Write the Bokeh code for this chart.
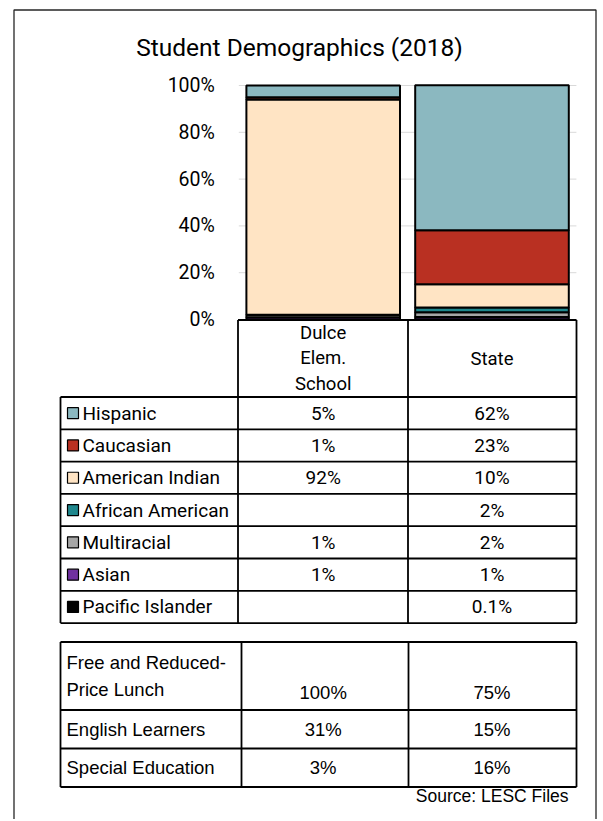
from bokeh.plotting import figure
from bokeh.models import Range1d, LinearAxis, FixedTicker, PrintfTickFormatter, ColumnDataSource
from bokeh.core.properties import value
from bokeh.embed import file_html
from bokeh.resources import INLINE

# ---------------- data ----------------
title = "Student Demographics (2018)"
categories = ["Dulce\nElem.\nSchool", "State"]
groups = ["Hispanic", "Caucasian", "American Indian", "African American",
          "Multiracial", "Asian", "Pacific Islander"]
dulce = [5, 1, 92, None, 1, 1, None]
state = [62, 23, 10, 2, 2, 1, 0.1]
colors = ["#8BB8C0", "#B93022", "#FFE4C4", "#1F878D", "#A6A6A6", "#7030A0", "#000000"]
y_ticks = [0, 20, 40, 60, 80, 100]
programs = ["Free and Reduced-\nPrice Lunch", "English Learners", "Special Education"]
dulce_prog = [100, 31, 3]
state_prog = [75, 15, 16]
source_note = "Source: LESC Files"

# ---------------- layout (page pixels) ----------------
W, H = 600, 819
OFF = 0
X0, DX = 322.7, 168.8      # centre of first category, px per category
Y0, DY = 319.0, 2.34       # 0% line, px per percent

FR = "Roboto"
AR = "Liberation Sans"

p = figure(width=W, height=H, output_backend="svg", toolbar_location=None,
           x_axis_location=None, y_axis_location=None, min_border=0,
           outline_line_color=None,
           x_range=Range1d(1 + (OFF - X0) / DX, 1 + (OFF + W - X0) / DX),
           y_range=Range1d((Y0 - (OFF + H)) / DY, (Y0 - OFF) / DY))
p.extra_x_ranges = {"px": Range1d(OFF, OFF + W)}
p.extra_y_ranges = {"px": Range1d(OFF + H, OFF)}
p.xgrid.visible = False
p.ygrid.visible = False
p.background_fill_color = "white"
p.border_fill_color = "white"

def fmt(v):
    if v is None:
        return ""
    return (f"{v:g}") + "%"

xs_cat = [i + 1 for i in range(len(categories))]

# gridlines
p.segment(x0=0.5, x1=len(categories) + 0.5, y0=y_ticks, y1=y_ticks,
          line_color="#D9D9D9", line_width=1)

# y axis
ax = LinearAxis(fixed_location=0.5, bounds=(0, 100),
                ticker=FixedTicker(ticks=y_ticks),
                formatter=PrintfTickFormatter(format="%d%%"))
ax.axis_line_color = None
ax.major_tick_line_color = None
ax.minor_tick_line_color = None
ax.major_label_standoff = 18
ax.major_label_text_font = FR
ax.major_label_text_font_size = "19.5px"
ax.major_label_text_color = "black"
p.add_layout(ax, "left")

# stacked bars
data = {"x": xs_cat}
for g, d, s in zip(groups, dulce, state):
    data[g] = [d or 0, s or 0]
src = ColumnDataSource(data)
stack = list(reversed(groups))
p.vbar_stack(stack, x="x", width=0.91, source=src,
             fill_color=list(reversed(colors)), line_color="black", line_width=2.0)

# ---------------- upper table ----------------
LX, C1, C2, RX = 60, 237.5, 407.5, 576
HT = 319.5
RT = 396.5
RH = 32.3
rows_y = [RT + i * RH for i in range(len(groups) + 1)]
lx, ly = [], []
lx += [[C1, RX]]; ly += [[HT, HT]]
lx += [[C1, C1], [C2, C2], [RX, RX]]; ly += [[HT, rows_y[-1]], [HT, rows_y[-1]], [HT, rows_y[-1]]]
lx += [[LX, LX]]; ly += [[RT, rows_y[-1]]]
for y in rows_y:
    lx.append([LX, RX]); ly.append([y, y])
p.multi_line(xs=lx, ys=ly, line_color="black", line_width=1.8,
             x_range_name="px", y_range_name="px")

p.text(x=xs_cat, y=[(HT + RT) / 2] * len(categories), text=categories,
       text_font=value(FR), text_font_size="18.5px", text_align="center",
       text_baseline="middle", text_line_height=1.18, y_range_name="px")

centers = [(rows_y[i] + rows_y[i + 1]) / 2 for i in range(len(groups))]
p.scatter(x=[72.5] * len(groups), y=centers, marker="square", size=11,
          fill_color=colors, line_color="black", line_width=1.2,
          x_range_name="px", y_range_name="px")
p.text(x=[82] * len(groups), y=centers, text=groups, text_font=value(FR),
       text_font_size="19px", text_align="left", text_baseline="middle",
       x_range_name="px", y_range_name="px")
p.text(x=[1] * len(groups), y=centers, text=[fmt(v) for v in dulce],
       text_font=value(FR), text_font_size="19px", text_align="center",
       text_baseline="middle", y_range_name="px")
p.text(x=[2] * len(groups), y=centers, text=[fmt(v) for v in state],
       text_font=value(FR), text_font_size="19px", text_align="center",
       text_baseline="middle", y_range_name="px")

# ---------------- lower table ----------------
BC1, BC2 = 241, 408
brows = [641.5, 709.5, 748, 786.5]
bx, by = [], []
for y in brows:
    bx.append([LX, RX]); by.append([y, y])
for x in [LX, BC1, BC2, RX]:
    bx.append([x, x]); by.append([brows[0], brows[-1]])
p.multi_line(xs=bx, ys=by, line_color="black", line_width=1.8,
             x_range_name="px", y_range_name="px")

plab_y = [brows[0] + 10, (brows[1] + brows[2]) / 2, (brows[2] + brows[3]) / 2]
p.text(x=[66] * 3, y=plab_y, text=programs, text_font=value(AR),
       text_font_size="18.5px", text_align="left",
       text_baseline=["top", "middle", "middle"], text_line_height=1.3,
       x_range_name="px", y_range_name="px")
pval_y = [brows[1] - 18, plab_y[1], plab_y[2]]
p.text(x=[1] * 3, y=pval_y, text=[fmt(v) for v in dulce_prog], text_font=value(AR),
       text_font_size="18.5px", text_align="center", text_baseline="middle",
       y_range_name="px")
p.text(x=[2] * 3, y=pval_y, text=[fmt(v) for v in state_prog], text_font=value(AR),
       text_font_size="18.5px", text_align="center", text_baseline="middle",
       y_range_name="px")

p.text(x=[568], y=[795], text=[source_note], text_font=value(AR),
       text_font_size="17.5px", text_align="right", text_baseline="middle",
       x_range_name="px", y_range_name="px")

# title
p.text(x=[299], y=[47], text=[title], text_font=value(FR), text_font_size="24.5px",
       text_align="center", text_baseline="middle",
       x_range_name="px", y_range_name="px")

# outer frame
p.multi_line(xs=[[13.5, 13.5, 595.5, 595.5]], ys=[[OFF + H + 5, 9.5, 9.5, OFF + H + 5]],
             line_color="#262626", line_width=1.3, x_range_name="px", y_range_name="px")

open("out.html", "w").write(file_html(p, INLINE))
